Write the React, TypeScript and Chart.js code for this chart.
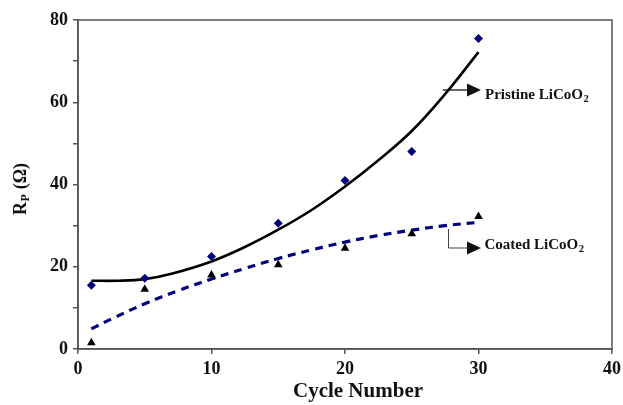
import React, { useEffect, useRef } from "react";
import { Chart, registerables } from "chart.js";

Chart.register(...registerables);

// Measured impedance (Rp, ohm) at each cycle
const cycles = [1, 5, 10, 15, 20, 25, 30];
const pristineRp = [15.5, 17.2, 22.5, 30.6, 41.0, 48.0, 75.5];
const coatedRp = [1.5, 14.5, 18.0, 20.5, 24.5, 28.0, 32.2];

// Trend lines through the measurements
const pristineFitX = [1, 3, 5, 7, 10, 12.5, 15, 17.5, 20, 22.5, 25, 27.5, 30];
const pristineFitY = [16.6, 16.6, 17.0, 18.3, 21.3, 24.8, 29.0, 33.8, 39.5, 45.9, 53.0, 62.0, 72.2];
const coatedFitX = [1, 2.5, 5, 7.5, 10, 12.5, 15, 17.5, 20, 22.5, 25, 27.5, 30];
const coatedFitY = [4.9, 7.3, 11.0, 14.2, 17.0, 19.6, 22.0, 24.1, 26.0, 27.6, 28.9, 30.0, 30.8];

const xTicks = [0, 10, 20, 30, 40];
const yLabelled = [0, 20, 40, 60, 80];

const FONT = "'Liberation Serif', 'Times New Roman', serif";
const NAVY = "#00007f";

const pts = (xs: number[], ys: number[]) => xs.map((x, i) => ({ x, y: ys[i] }));

// Draws text with a trailing subscript, starting at (x, y) on the baseline
function subText(ctx: CanvasRenderingContext2D, main: string, sub: string, x: number, y: number, size: number, subSize: number, drop: number) {
  ctx.font = `bold ${size}px ${FONT}`;
  ctx.textAlign = "left";
  ctx.textBaseline = "alphabetic";
  ctx.fillText(main, x, y);
  const w = ctx.measureText(main).width;
  ctx.font = `bold ${subSize}px ${FONT}`;
  ctx.fillText(sub, x + w + 0.5, y + drop);
}

function arrowHead(ctx: CanvasRenderingContext2D, tipX: number, y: number) {
  ctx.beginPath();
  ctx.moveTo(tipX, y);
  ctx.lineTo(tipX - 14, y - 6.5);
  ctx.lineTo(tipX - 14, y + 6.5);
  ctx.closePath();
  ctx.fill();
}

const decorations = {
  id: "decorations",
  afterDraw(chart: any) {
    const { ctx, chartArea, scales } = chart;
    ctx.save();
    // frame around the plotting area
    ctx.strokeStyle = "#555";
    ctx.lineWidth = 1.5;
    ctx.strokeRect(chartArea.left, chartArea.top, chartArea.right - chartArea.left, chartArea.bottom - chartArea.top);

    ctx.fillStyle = "#111";
    // x-axis title
    ctx.font = `bold 21px ${FONT}`;
    ctx.textAlign = "center";
    ctx.textBaseline = "alphabetic";
    ctx.fillText("Cycle Number", 358, 397);

    // y-axis title, rotated
    ctx.save();
    ctx.translate(26, 189);
    ctx.rotate(-Math.PI / 2);
    ctx.font = `bold 18px ${FONT}`;
    const wR = ctx.measureText("R").width;
    ctx.font = `bold 12px ${FONT}`;
    const wP = ctx.measureText("P").width;
    ctx.font = `bold 18px ${FONT}`;
    const wO = ctx.measureText(" (Ω)").width;
    const total = wR + wP + wO + 1;
    const x0 = -total / 2;
    ctx.textAlign = "left";
    ctx.fillText("R", x0, 0);
    ctx.font = `bold 12px ${FONT}`;
    ctx.fillText("P", x0 + wR + 0.5, 3);
    ctx.font = `bold 18px ${FONT}`;
    ctx.fillText(" (Ω)", x0 + wR + wP + 1, 0);
    ctx.restore();

    // Pristine label with arrow
    const xs = scales.x;
    const lineX = xs.getPixelForValue(27.7);
    ctx.strokeStyle = "#111";
    ctx.lineWidth = 1.3;
    ctx.beginPath();
    ctx.moveTo(lineX - 5, 90);
    ctx.lineTo(468, 90);
    ctx.stroke();
    arrowHead(ctx, 481, 90);
    subText(ctx, "Pristine LiCoO", "2", 485, 98.5, 15, 10.5, 3);

    // Coated label with elbow arrow
    ctx.strokeStyle = "#444";
    ctx.lineWidth = 1;
    ctx.beginPath();
    ctx.moveTo(448.5, 229);
    ctx.lineTo(448.5, 248);
    ctx.lineTo(468, 248);
    ctx.stroke();
    ctx.fillStyle = "#111";
    arrowHead(ctx, 481, 248);
    subText(ctx, "Coated LiCoO", "2", 484.5, 248.5, 15, 10.5, 3);
    ctx.restore();
  },
};

export default function App() {
  const ref = useRef<HTMLCanvasElement | null>(null);

  useEffect(() => {
    document.body.style.margin = "0";
    const canvas = ref.current;
    if (!canvas) return;
    const chart = new Chart(canvas, {
      type: "scatter",
      data: {
        datasets: [
          {
            type: "line",
            data: pts(pristineFitX, pristineFitY),
            borderColor: "#000",
            borderWidth: 2.6,
            pointRadius: 0,
            tension: 0.4,
            fill: false,
            order: 2,
          },
          {
            type: "line",
            data: pts(coatedFitX, coatedFitY),
            borderColor: NAVY,
            borderWidth: 3.2,
            borderDash: [8, 6],
            pointRadius: 0,
            tension: 0.4,
            fill: false,
            order: 2,
          },
          {
            data: pts(cycles, pristineRp),
            pointStyle: "rectRot",
            pointRadius: 4.5,
            backgroundColor: NAVY,
            borderColor: NAVY,
            borderWidth: 0,
            order: 1,
          },
          {
            data: pts(cycles, coatedRp),
            pointStyle: "triangle",
            pointRadius: 5,
            backgroundColor: "#000",
            borderColor: "#000",
            borderWidth: 0,
            order: 1,
          },
        ],
      } as any,
      options: {
        responsive: false,
        animation: false,
        layout: { padding: { top: 20, right: 11, left: 0, bottom: 0 } },
        plugins: { legend: { display: false }, tooltip: { enabled: false } },
        scales: {
          x: {
            type: "linear",
            min: 0,
            max: 40,
            afterFit: (s: any) => {
              s.height = 56;
              s.paddingLeft = 0;
              s.paddingRight = 0;
            },
            afterBuildTicks: (s: any) => {
              s.ticks = xTicks.map((v) => ({ value: v }));
            },
            ticks: {
              color: "#111",
              font: { family: FONT, size: 18, weight: "bold" },
              padding: 5,
              maxRotation: 0,
            },
            grid: { drawOnChartArea: false, tickLength: 5, color: "#555", lineWidth: 1.5 },
            border: { color: "#555", width: 1.5 },
          },
          y: {
            type: "linear",
            min: 0,
            max: 80,
            afterFit: (s: any) => {
              s.width = 78;
              s.paddingTop = 0;
              s.paddingBottom = 0;
            },
            ticks: {
              stepSize: 10,
              color: "#111",
              font: { family: FONT, size: 18, weight: "bold" },
              padding: 5,
              callback: (v: any) => (yLabelled.includes(Number(v)) ? String(v) : ""),
            },
            grid: { drawOnChartArea: false, tickLength: 5, color: "#555", lineWidth: 1.5 },
            border: { color: "#555", width: 1.5 },
          },
        },
      } as any,
      plugins: [decorations],
    });
    return () => chart.destroy();
  }, []);

  return (
    <div style={{ position: "absolute", left: 0, top: 0, width: 623, height: 405, background: "#fff" }}>
      <canvas ref={ref} width={623} height={405} />
    </div>
  );
}
